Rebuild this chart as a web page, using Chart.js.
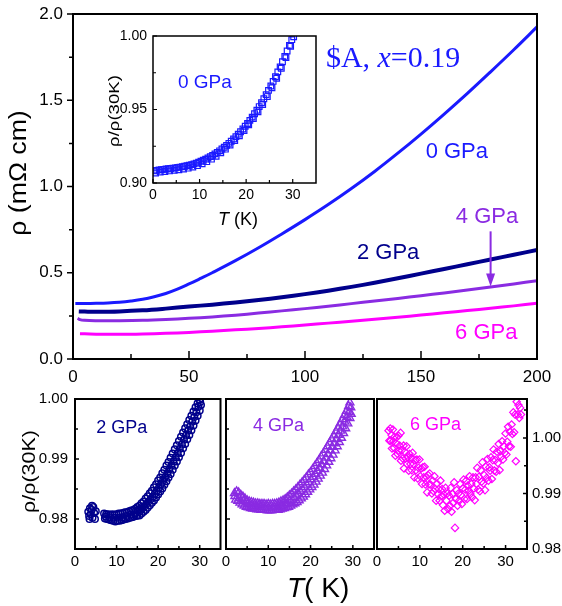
<!DOCTYPE html>
<html><head><meta charset="utf-8">
<script src="https://cdn.jsdelivr.net/npm/chart.js"></script>
<style>
html,body{margin:0;padding:0;background:#fff;}
#wrap{position:relative;width:562px;height:606px;overflow:hidden;background:#fff;}
canvas{position:absolute;}
</style></head><body>
<div id="wrap">
<canvas id="main" width="562" height="395" style="left:0;top:0"></canvas>
<canvas id="inset" width="235" height="210" style="left:95px;top:25px"></canvas>
<canvas id="p1" width="226" height="221" style="left:0;top:385px"></canvas>
<canvas id="p2" width="160" height="221" style="left:220px;top:385px"></canvas>
<canvas id="p3" width="192" height="221" style="left:370px;top:385px"></canvas>
</div>
<script>
// ---------------- DATA ----------------
// main panel: rho (mOhm cm) vs T (K)
const T_0GPa = [1,5,10,15,20,25,30,35,40,45,50,55,60,70,80,90,100,110,120,130,140,150,160,170,180,190,200];
const R_0GPa = [0.322,0.322,0.323,0.325,0.329,0.336,0.346,0.361,0.38,0.405,0.435,0.467,0.5,0.57,0.645,0.725,0.808,0.895,0.988,1.087,1.193,1.304,1.42,1.54,1.665,1.793,1.925];
const T_2GPa = [2.5,5,10,20,30,40,50,60,70,80,90,100,110,120,130,140,150,160,170,180,190,200];
const R_2GPa = [0.276,0.275,0.274,0.276,0.282,0.292,0.304,0.315,0.328,0.342,0.358,0.376,0.396,0.418,0.442,0.468,0.495,0.522,0.549,0.577,0.604,0.632];
const T_4GPa = [2,3,5,10,20,30,40,50,60,70,80,90,100,110,120,130,140,150,160,170,180,190,200];
const R_4GPa = [0.236,0.228,0.224,0.222,0.222,0.224,0.229,0.236,0.244,0.254,0.266,0.279,0.292,0.306,0.321,0.336,0.351,0.367,0.383,0.4,0.417,0.435,0.454];
const T_6GPa = [3,5,10,20,30,40,50,60,70,80,90,100,110,120,130,140,150,160,170,180,190,200];
const R_6GPa = [0.146,0.146,0.144,0.143,0.145,0.149,0.154,0.161,0.169,0.177,0.187,0.197,0.208,0.219,0.23,0.242,0.255,0.268,0.281,0.294,0.308,0.323];

// inset: rho/rho(30K), 0 GPa
const insetT_a = [0.3,0.8,1.3,1.8,2.3,2.8,3.3,3.8,4.3,4.8,5.3,5.8,6.3,6.8,7.3,7.8,8.3,8.8,9.3,9.8,10.3,10.8,11.3,11.8,12.3,12.8,13.3,13.8,14.3,14.8,15.3,15.8,16.3,16.8,17.3,17.8,18.3,18.8,19.3,19.8,20.3,20.8,21.3,21.8,22.3,22.8,23.3,23.8,24.3,24.8,25.3,25.8,26.3,26.8,27.3,27.8,28.3,28.8,29.3,29.8,30.2];
const insetR_a = [0.9082,0.9086,0.9089,0.9091,0.9093,0.9095,0.9097,0.9099,0.9101,0.9103,0.9106,0.9108,0.9111,0.9114,0.9117,0.9121,0.9125,0.9130,0.9135,0.9141,0.9148,0.9155,0.9162,0.9170,0.9179,0.9188,0.9198,0.9208,0.9219,0.9231,0.9243,0.9256,0.9270,0.9284,0.9299,0.9315,0.9332,0.9349,0.9367,0.9386,0.9405,0.9426,0.9448,0.9471,0.9495,0.9520,0.9546,0.9573,0.9601,0.9630,0.9660,0.9691,0.9723,0.9756,0.9790,0.9825,0.9861,0.9898,0.9936,0.9975,0.9995];
const insetT_b = [0.55,1.55,2.55,3.55,4.55,5.55,6.55,7.55,8.55,9.55,10.55,11.55,12.55,13.55,14.55,15.55,16.55,17.55,18.55,19.55,20.55,21.55,22.55,23.55,24.55,25.55,26.55,27.55,28.55,29.55];
const insetR_b = [0.9068,0.9074,0.9078,0.9082,0.9086,0.9090,0.9095,0.9101,0.9109,0.9118,0.9130,0.9145,0.9162,0.9182,0.9205,0.9230,0.9258,0.9288,0.9321,0.9357,0.9396,0.9438,0.9484,0.9534,0.9588,0.9648,0.9712,0.9780,0.9853,0.9930];

// bottom panel 1: 2 GPa
const p2T_a = [3.2,3.4,3.6,3.8,4.0,4.2,4.4,4.6,4.8,5.0,3.5,4.1,7.0,7.5,8.0,8.5,9.0,9.5,10.0,10.5,11.0,11.5,12.0,12.5,13.0,13.5,14.0,14.5,15.0,15.5,16.0,16.5,17.0,17.5,18.0,18.5,19.0,19.5,20.0,20.5,21.0,21.5,22.0,22.5,23.0,23.5,24.0,24.5,25.0,25.5,26.0,26.5,27.0,27.5,28.0,28.5,29.0,29.5,29.9];
const p2R_a = [0.9812,0.9805,0.9818,0.9808,0.9815,0.9802,0.9820,0.9810,0.9800,0.9813,0.9800,0.9822,0.9809,0.9808,0.9808,0.9807,0.9808,0.9807,0.9808,0.9809,0.9809,0.9810,0.9811,0.9811,0.9813,0.9814,0.9815,0.9817,0.9820,0.9822,0.9826,0.9829,0.9834,0.9838,0.9843,0.9847,0.9853,0.9858,0.9864,0.9869,0.9876,0.9882,0.9889,0.9895,0.9902,0.9909,0.9916,0.9923,0.9930,0.9937,0.9944,0.9951,0.9958,0.9965,0.9972,0.9979,0.9986,0.9993,0.9999];
const p2T_b = [7.2,7.7,8.2,8.7,9.2,9.7,10.2,10.7,11.2,11.7,12.2,12.7,13.2,13.7,14.2,14.7,15.0,15.5,16.0,16.5,17.0,17.5,18.0,18.5,19.0,19.5,20.0,20.5,21.0,21.5,22.0,22.5,23.0,23.5,24.0,24.5,25.0,25.5,26.0,26.5,27.0,27.5,28.0,28.5,29.0,29.5,30.0,30.3];
const p2R_b = [0.9801,0.9800,0.9799,0.9798,0.9797,0.9796,0.9797,0.9797,0.9798,0.9799,0.9800,0.9801,0.9802,0.9803,0.9804,0.9805,0.9806,0.9806,0.9809,0.9812,0.9815,0.9819,0.9823,0.9827,0.9831,0.9836,0.9841,0.9846,0.9851,0.9857,0.9863,0.9869,0.9875,0.9882,0.9889,0.9896,0.9903,0.9910,0.9918,0.9925,0.9933,0.9940,0.9948,0.9956,0.9964,0.9972,0.9981,0.9990];
const p2T_c = [7.4,8.4,9.4,10.4,11.4,12.4,13.4,14.4,15.2,15.7,16.2,16.7,17.2,17.7,18.2,18.7,19.2,19.7,20.2,20.7,21.2,21.7,22.2,22.7,23.2,23.7,24.2,24.7,25.2,25.7,26.2,26.7,27.2,27.7,28.2,28.7,29.2,29.7,30.1];
const p2R_c = [0.9804,0.9803,0.9802,0.9802,0.9803,0.9805,0.9807,0.9810,0.9814,0.9816,0.9818,0.9821,0.9825,0.9829,0.9833,0.9837,0.9842,0.9847,0.9852,0.9858,0.9864,0.9870,0.9876,0.9883,0.9889,0.9896,0.9903,0.9910,0.9917,0.9924,0.9932,0.9939,0.9947,0.9954,0.9962,0.9970,0.9978,0.9987,0.9995];

// bottom panel 2: 4 GPa
const p4T_a = [2.0,2.5,3.0,3.5,4.0,4.5,5.0,5.5,6.0,6.5,7.0,7.5,8.0,8.5,9.0,9.5,10.0,10.5,11.0,11.5,12.0,12.5,13.0,13.5,14.0,14.5,15.0,15.5,16.0,16.5,17.0,17.5,18.0,18.5,19.0,19.5,20.0,20.5,21.0,21.5,22.0,22.5,23.0,23.5,24.0,24.5,25.0,25.5,26.0,26.5,27.0,27.5,28.0,28.5,29.0,29.3];
const p4R_a = [0.9843,0.9846,0.9844,0.9840,0.9837,0.9834,0.9831,0.9829,0.9828,0.9827,0.9826,0.9826,0.9825,0.9825,0.9825,0.9824,0.9825,0.9824,0.9825,0.9825,0.9826,0.9827,0.9829,0.9831,0.9833,0.9836,0.9839,0.9842,0.9846,0.9849,0.9853,0.9857,0.9861,0.9865,0.9869,0.9874,0.9878,0.9883,0.9888,0.9893,0.9898,0.9904,0.9909,0.9915,0.9921,0.9927,0.9933,0.9939,0.9946,0.9952,0.9959,0.9966,0.9973,0.9980,0.9988,0.9994];
const p4T_b = [2.3,2.8,3.3,3.8,4.3,4.8,5.3,5.8,6.3,6.8,7.3,7.8,8.3,8.8,9.3,9.8,10.3,10.8,11.3,11.8,12.3,12.8,13.3,13.8,14.3,14.8,15.3,15.8,16.3,16.8,17.3,17.8,18.3,18.8,19.3,19.8,20.3,20.8,21.3,21.8,22.3,22.8,23.3,23.8,24.3,24.8,25.3,25.8,26.3,26.8,27.3,27.8,28.3,28.8,29.3,29.6];
const p4R_b = [0.9832,0.9830,0.9827,0.9824,0.9822,0.9820,0.9819,0.9818,0.9817,0.9817,0.9816,0.9816,0.9815,0.9815,0.9815,0.9814,0.9814,0.9814,0.9815,0.9815,0.9815,0.9816,0.9817,0.9818,0.9819,0.9820,0.9822,0.9824,0.9826,0.9828,0.9831,0.9834,0.9837,0.9841,0.9845,0.9849,0.9853,0.9857,0.9862,0.9867,0.9872,0.9877,0.9883,0.9889,0.9895,0.9901,0.9907,0.9914,0.9921,0.9928,0.9935,0.9943,0.9951,0.9959,0.9968,0.9975];
const p4T_c = [2.1,3.1,4.1,5.1,6.1,7.1,8.1,9.1,10.1,11.1,12.1,13.1,14.1,15.1,16.1,16.6,17.1,17.6,18.1,18.6,19.1,19.6,20.1,20.6,21.1,21.6,22.1,22.6,23.1,23.6,24.1,24.6,25.1,25.6,26.1,26.6,27.1,27.6,28.1,28.6,29.1,29.5];
const p4R_c = [0.9838,0.9835,0.9830,0.9825,0.9822,0.9821,0.9820,0.9819,0.9819,0.9819,0.9820,0.9822,0.9826,0.9831,0.9836,0.9839,0.9842,0.9846,0.9849,0.9853,0.9857,0.9861,0.9866,0.9870,0.9875,0.9880,0.9885,0.9891,0.9896,0.9902,0.9908,0.9914,0.9920,0.9926,0.9933,0.9940,0.9947,0.9954,0.9962,0.9970,0.9978,0.9986];

// bottom panel 3: 6 GPa
const p6T = [2.7,2.9,3.1,3.2,3.4,3.5,3.7,3.8,4.0,4.1,4.3,4.5,4.6,4.8,5.0,5.1,5.3,5.5,5.6,5.8,6.0,6.2,6.3,6.5,6.7,6.9,7.0,7.2,7.4,7.6,7.8,8.0,8.1,8.3,8.5,8.7,8.9,9.1,9.3,9.5,9.7,9.9,10.1,10.3,10.5,10.7,10.9,11.1,11.3,11.5,11.7,11.9,12.1,12.3,12.5,12.8,13.0,13.2,13.4,13.6,13.8,14.0,14.2,14.4,14.6,14.8,15.0,15.2,15.4,15.6,15.8,16.0,16.2,16.4,16.6,16.8,17.0,17.2,17.4,17.6,17.8,18.0,18.2,18.4,18.6,18.8,19.0,19.2,19.4,19.6,19.8,20.0,20.2,20.4,20.6,20.8,21.0,21.2,21.4,21.6,21.8,22.0,22.2,22.4,22.6,22.8,23.0,23.2,23.4,23.6,23.8,24.0,24.2,24.4,24.6,24.8,25.0,25.2,25.4,25.6,25.8,26.0,26.2,26.4,26.6,26.8,27.0,27.2,27.4,27.6,27.8,28.0,28.2,28.4,28.6,28.8,29.0,29.2,29.4,29.6,29.8,30.0,30.2,30.4,30.6,30.8,31.0,31.2,31.4,31.6,31.8,32.0,32.2,32.4,32.6,32.8,33.0,33.2,33.4,33.6];
const p6R = [1.0013,0.9995,1.0017,0.9995,1.0005,0.9981,1.0015,0.9994,0.9982,1.0002,0.9968,0.9990,1.0001,0.9971,1.0004,0.9977,0.9986,1.0009,0.9959,0.9978,0.9963,0.9986,0.9945,0.9975,0.9963,0.9985,0.9953,0.9965,0.9941,0.9971,0.9953,0.9964,0.9942,0.9973,0.9953,0.9929,0.9960,0.9942,0.9961,0.9927,0.9946,0.9961,0.9931,0.9945,0.9917,0.9947,0.9929,0.9948,0.9916,0.9930,0.9902,0.9933,0.9916,0.9936,0.9916,0.9900,0.9923,0.9904,0.9931,0.9908,0.9887,0.9918,0.9899,0.9908,0.9887,0.9923,0.9895,0.9908,0.9879,0.9898,0.9869,0.9910,0.9887,0.9900,0.9872,0.9896,0.9878,0.9910,0.9867,0.9899,0.9883,0.9920,0.9838,0.9890,0.9906,0.9878,0.9900,0.9887,0.9917,0.9897,0.9881,0.9909,0.9925,0.9890,0.9907,0.9923,0.9890,0.9914,0.9905,0.9931,0.9899,0.9917,0.9893,0.9929,0.9909,0.9888,0.9929,0.9917,0.9946,0.9907,0.9930,0.9904,0.9942,0.9921,0.9956,0.9918,0.9933,0.9906,0.9948,0.9928,0.9962,0.9923,0.9947,0.9941,0.9965,0.9926,0.9960,0.9979,0.9941,0.9960,0.9939,0.9975,0.9955,0.9989,0.9942,0.9976,0.9966,0.9994,0.9961,0.9985,0.9973,1.0008,0.9970,0.9993,1.0020,0.9985,1.0011,0.9984,1.0024,1.0007,1.0046,1.0010,1.0042,0.9958,1.0065,1.0042,1.0059,1.0036,1.0054,1.0042];

// ticks
const mainXTicks = [0,50,100,150,200], mainXLabels = ['0','50','100','150','200'], mainXMinor = [25,75,125,175];
const mainYTicks = [0,0.5,1,1.5,2], mainYLabels = ['0.0','0.5','1.0','1.5','2.0'], mainYMinor = [0.25,0.75,1.25,1.75];
const insetXTicks = [0,10,20,30], insetXLabels = ['0','10','20','30'], insetXMinor = [5,15,25];
const insetYTicks = [0.9,0.95,1.0], insetYLabels = ['0.90','0.95','1.00'], insetYMinor = [0.925,0.975];
const botXTicks = [0,10,20,30], botXLabels = ['0','10','20','30'], botXMinor = [5,15,25];
const botYTicks = [0.98,0.99,1.0], botYLabels = ['0.98','0.99','1.00'], botYMinor = [0.985,0.995];
const p3YMinor = [0.985,0.995,1.005];

// ---------------- STYLE ----------------
const FONT = "'Liberation Sans', Arial, sans-serif";
const SERIF = "'Liberation Serif', 'Times New Roman', serif";
const C0 = '#1a1aff', C2 = '#00008c', C4 = '#8a2be2', C6 = '#ff00ff';

const pts = (xs, ys) => xs.map((x, i) => ({x: x, y: ys[i]}));

function axis(o) {
  return {
    type: 'linear', min: o.min, max: o.max, position: o.position,
    afterBuildTicks: s => { s.ticks = o.ticks.map(v => ({value: v})); },
    afterFit: s => {
      if (s.isHorizontal()) s.height = o.size; else s.width = o.size;
      s.paddingTop = 0; s.paddingBottom = 0; s.paddingLeft = 0; s.paddingRight = 0;
    },
    ticks: {
      display: o.labels !== null, autoSkip: false, maxRotation: 0, minRotation: 0,
      padding: o.pad, color: '#000', font: {family: FONT, size: o.font},
      callback: (v, i) => o.labels ? o.labels[i] : ''
    },
    grid: {display: false, drawTicks: false},
    border: {display: false}
  };
}

const framePlugin = {
  id: 'frame',
  afterDraw(chart, args, o) {
    const ctx = chart.ctx, a = chart.chartArea;
    ctx.save();
    ctx.strokeStyle = '#000';
    (o.marks || []).forEach(m => {
      const s = chart.scales[m.axis];
      const sign = m.dir === 'in' ? 1 : -1;
      ctx.lineWidth = m.w || 1.5;
      ctx.beginPath();
      m.values.forEach(v => {
        const p = s.getPixelForValue(v);
        if (m.side === 'left') { ctx.moveTo(a.left, p); ctx.lineTo(a.left + sign * m.len, p); }
        if (m.side === 'right') { ctx.moveTo(a.right, p); ctx.lineTo(a.right - sign * m.len, p); }
        if (m.side === 'bottom') { ctx.moveTo(p, a.bottom); ctx.lineTo(p, a.bottom - sign * m.len); }
      });
      ctx.stroke();
    });
    ctx.lineWidth = o.lw || 2;
    ctx.strokeRect(a.left, a.top, a.right - a.left, a.bottom - a.top);
    ctx.restore();
  }
};

const annotPlugin = {
  id: 'annot',
  afterDraw(chart, args, o) {
    const ctx = chart.ctx;
    const xs = chart.scales.x, ys = chart.scales.y;
    ctx.save();
    (o.texts || []).forEach(t => {
      let px = t.px !== undefined ? t.px : xs.getPixelForValue(t.x);
      const py = t.py !== undefined ? t.py : ys.getPixelForValue(t.y);
      ctx.textBaseline = 'alphabetic'; ctx.textAlign = 'left';
      let total = 0;
      t.parts.forEach(p => { ctx.font = p[1]; total += ctx.measureText(p[0]).width; });
      if (t.align === 'center') px -= total / 2;
      t.parts.forEach(p => {
        ctx.font = p[1]; ctx.fillStyle = t.color || '#000';
        ctx.fillText(p[0], px, py);
        px += ctx.measureText(p[0]).width;
      });
    });
    (o.vtexts || []).forEach(t => {
      ctx.save();
      ctx.translate(t.px, t.py); ctx.rotate(-Math.PI / 2); ctx.scale(t.stretch || 1, 1);
      ctx.font = t.font; ctx.fillStyle = t.color || '#000';
      ctx.textAlign = 'center'; ctx.textBaseline = 'middle';
      ctx.fillText(t.text, 0, 0);
      ctx.restore();
    });
    (o.arrows || []).forEach(r => {
      const x = xs.getPixelForValue(r.x), y1 = ys.getPixelForValue(r.y1), y2 = ys.getPixelForValue(r.y2);
      ctx.strokeStyle = r.color; ctx.fillStyle = r.color; ctx.lineWidth = 2;
      ctx.beginPath(); ctx.moveTo(x, y1); ctx.lineTo(x, y2 - 10); ctx.stroke();
      ctx.beginPath(); ctx.moveTo(x, y2); ctx.lineTo(x - 4.5, y2 - 13); ctx.lineTo(x + 4.5, y2 - 13); ctx.closePath(); ctx.fill();
    });
    ctx.restore();
  }
};

const base = (extra) => Object.assign({
  responsive: false, animation: false, events: [],
}, extra);

// ---------------- MAIN ----------------
const lineDs = (xs, ys, c, w) => ({data: pts(xs, ys), borderColor: c, borderWidth: w, pointRadius: 0, fill: false, tension: 0.4});
new Chart(document.getElementById('main'), {
  type: 'line',
  data: {datasets: [
    lineDs(T_6GPa, R_6GPa, C6, 3),
    lineDs(T_4GPa, R_4GPa, C4, 3),
    lineDs(T_2GPa, R_2GPa, C2, 4),
    lineDs(T_0GPa, R_0GPa, C0, 3)
  ]},
  options: base({
    layout: {padding: {top: 14, right: 25, left: 0, bottom: 0}},
    scales: {
      x: axis({min: 0, max: 200, position: 'bottom', ticks: mainXTicks, labels: mainXLabels, size: 36, pad: 8, font: 17}),
      y: axis({min: 0, max: 2, position: 'left', ticks: mainYTicks, labels: mainYLabels, size: 73, pad: 10, font: 17})
    },
    plugins: {
      legend: {display: false}, tooltip: {enabled: false},
      frame: {lw: 2, marks: [
        {axis: 'y', side: 'left', dir: 'out', values: mainYTicks, len: 6},
        {axis: 'y', side: 'left', dir: 'out', values: mainYMinor, len: 4},
        {axis: 'x', side: 'bottom', dir: 'in', values: mainXTicks, len: 8},
        {axis: 'x', side: 'bottom', dir: 'in', values: mainXMinor, len: 5}
      ]},
      annot: {
        texts: [
          {x: 109, y: 1.693, color: C0, parts: [['$A, ', '30px ' + SERIF], ['x', 'italic 30px ' + SERIF], ['=0.19', '30px ' + SERIF]]},
          {x: 152, y: 1.165, color: C0, parts: [['0 GPa', '22px ' + FONT]]},
          {x: 122.4, y: 0.58, color: C2, parts: [['2 GPa', '22px ' + FONT]]},
          {x: 165, y: 0.791, color: C4, parts: [['4 GPa', '22px ' + FONT]]},
          {x: 164.7, y: 0.116, color: C6, parts: [['6 GPa', '22px ' + FONT]]}
        ],
        vtexts: [{px: 20, py: 173, text: 'ρ (mΩ cm)', font: '23px ' + FONT, stretch: 1.16}],
        arrows: [{x: 180, y1: 0.74, y2: 0.42, color: C4}]
      }
    }
  }),
  plugins: [framePlugin, annotPlugin]
});

// ---------------- INSET ----------------
new Chart(document.getElementById('inset'), {
  type: 'scatter',
  data: {datasets: [
    {data: pts(insetT_b, insetR_b), pointStyle: 'rect', pointRadius: 4, borderColor: C0, borderWidth: 1.2, backgroundColor: 'rgba(0,0,0,0)'},
    {data: pts(insetT_a, insetR_a), pointStyle: 'rect', pointRadius: 4, borderColor: C0, borderWidth: 1.2, backgroundColor: 'rgba(0,0,0,0)'}
  ]},
  options: base({
    layout: {padding: {top: 11, right: 14, left: 0, bottom: 0}},
    scales: {
      x: axis({min: 0, max: 35, position: 'bottom', ticks: insetXTicks, labels: insetXLabels, size: 52, pad: 4, font: 14}),
      y: axis({min: 0.9, max: 1.0, position: 'left', ticks: insetYTicks, labels: insetYLabels, size: 58, pad: 6, font: 14})
    },
    plugins: {
      legend: {display: false}, tooltip: {enabled: false},
      frame: {lw: 1.5, marks: [
        {axis: 'y', side: 'left', dir: 'in', values: insetYTicks, len: 4, w: 1.2},
        {axis: 'y', side: 'left', dir: 'in', values: insetYMinor, len: 3, w: 1.2},
        {axis: 'x', side: 'bottom', dir: 'in', values: insetXTicks, len: 4, w: 1.2},
        {axis: 'x', side: 'bottom', dir: 'in', values: insetXMinor, len: 3, w: 1.2}
      ]},
      annot: {
        texts: [
          {x: 5.35, y: 0.9646, color: C0, parts: [['0 GPa', '19px ' + FONT]]},
          {px: 123, py: 200, color: '#000', parts: [['T', 'italic 18px ' + FONT], [' (K)', '18px ' + FONT]]}
        ],
        vtexts: [{px: 20, py: 86, text: 'ρ/ρ(30K)', font: '14px ' + FONT, stretch: 1.33}]
      }
    }
  }),
  plugins: [framePlugin, annotPlugin]
});

// ---------------- BOTTOM PANELS ----------------
const botMarks = (side, minor) => [
  {axis: 'y', side: side, dir: 'in', values: botYTicks, len: 4},
  {axis: 'y', side: side, dir: 'in', values: minor, len: 3},
  {axis: 'x', side: 'bottom', dir: 'in', values: botXTicks, len: 4},
  {axis: 'x', side: 'bottom', dir: 'in', values: botXMinor, len: 3}
];
const sc = (xs, ys, style, r, c, w) => ({data: pts(xs, ys), pointStyle: style, pointRadius: r, borderColor: c, borderWidth: w, backgroundColor: 'rgba(0,0,0,0)'});

new Chart(document.getElementById('p1'), {
  type: 'scatter',
  data: {datasets: [
    sc(p2T_b, p2R_b, 'circle', 3.3, C2, 1.5),
    sc(p2T_c, p2R_c, 'circle', 3.3, C2, 1.5),
    sc(p2T_a, p2R_a, 'circle', 3.3, C2, 1.5)
  ]},
  options: base({
    layout: {padding: {top: 14, right: 1, left: 0, bottom: 0}},
    scales: {
      x: axis({min: 0, max: 35, position: 'bottom', ticks: botXTicks, labels: botXLabels, size: 57, pad: 4, font: 15}),
      y: axis({min: 0.975, max: 1.0, position: 'left', ticks: botYTicks, labels: botYLabels, size: 75, pad: 7, font: 15})
    },
    plugins: {
      legend: {display: false}, tooltip: {enabled: false},
      frame: {lw: 2, marks: botMarks('left', botYMinor)},
      annot: {
        texts: [{x: 5.1, y: 0.99433, color: C2, parts: [['2 GPa', '18px ' + FONT]]}],
        vtexts: [{px: 30, py: 86.5, text: 'ρ/ρ(30K)', font: '19px ' + FONT, stretch: 1.13}]
      }
    }
  }),
  plugins: [framePlugin, annotPlugin]
});

new Chart(document.getElementById('p2'), {
  type: 'scatter',
  data: {datasets: [
    sc(p4T_b, p4R_b, 'triangle', 4.6, C4, 1.4),
    sc(p4T_c, p4R_c, 'triangle', 4.6, C4, 1.4),
    sc(p4T_a, p4R_a, 'triangle', 4.6, C4, 1.4)
  ]},
  options: base({
    layout: {padding: {top: 14, right: 3, left: 0, bottom: 0}},
    scales: {
      x: axis({min: 0, max: 35, position: 'bottom', ticks: botXTicks, labels: botXLabels, size: 57, pad: 4, font: 15}),
      y: axis({min: 0.975, max: 1.0, position: 'left', ticks: botYTicks, labels: null, size: 5, pad: 0, font: 15})
    },
    plugins: {
      legend: {display: false}, tooltip: {enabled: false},
      frame: {lw: 2, marks: botMarks('left', botYMinor)},
      annot: {
        texts: [
          {x: 6.4, y: 0.99467, color: C4, parts: [['4 GPa', '18px ' + FONT]]},
          {px: 67, py: 212, color: '#000', parts: [['T', 'italic 28px ' + FONT], ['( K)', '28px ' + FONT]]}
        ]
      }
    }
  }),
  plugins: [framePlugin, annotPlugin]
});

new Chart(document.getElementById('p3'), {
  type: 'scatter',
  data: {datasets: [
    sc(p6T, p6R, 'rectRot', 3.7, C6, 1.2)
  ]},
  options: base({
    layout: {padding: {top: 14, right: 0, left: 7, bottom: 0}},
    scales: {
      x: axis({min: 0, max: 35, position: 'bottom', ticks: botXTicks, labels: botXLabels, size: 57, pad: 4, font: 15}),
      y: axis({min: 0.98, max: 1.007, position: 'right', ticks: botYTicks, labels: botYLabels, size: 35, pad: 5, font: 15})
    },
    plugins: {
      legend: {display: false}, tooltip: {enabled: false},
      frame: {lw: 2, marks: botMarks('right', p3YMinor)},
      annot: {
        texts: [{x: 7.7, y: 1.0014, color: C6, parts: [['6 GPa', '18px ' + FONT]]}]
      }
    }
  }),
  plugins: [framePlugin, annotPlugin]
});
</script>
</body></html>
